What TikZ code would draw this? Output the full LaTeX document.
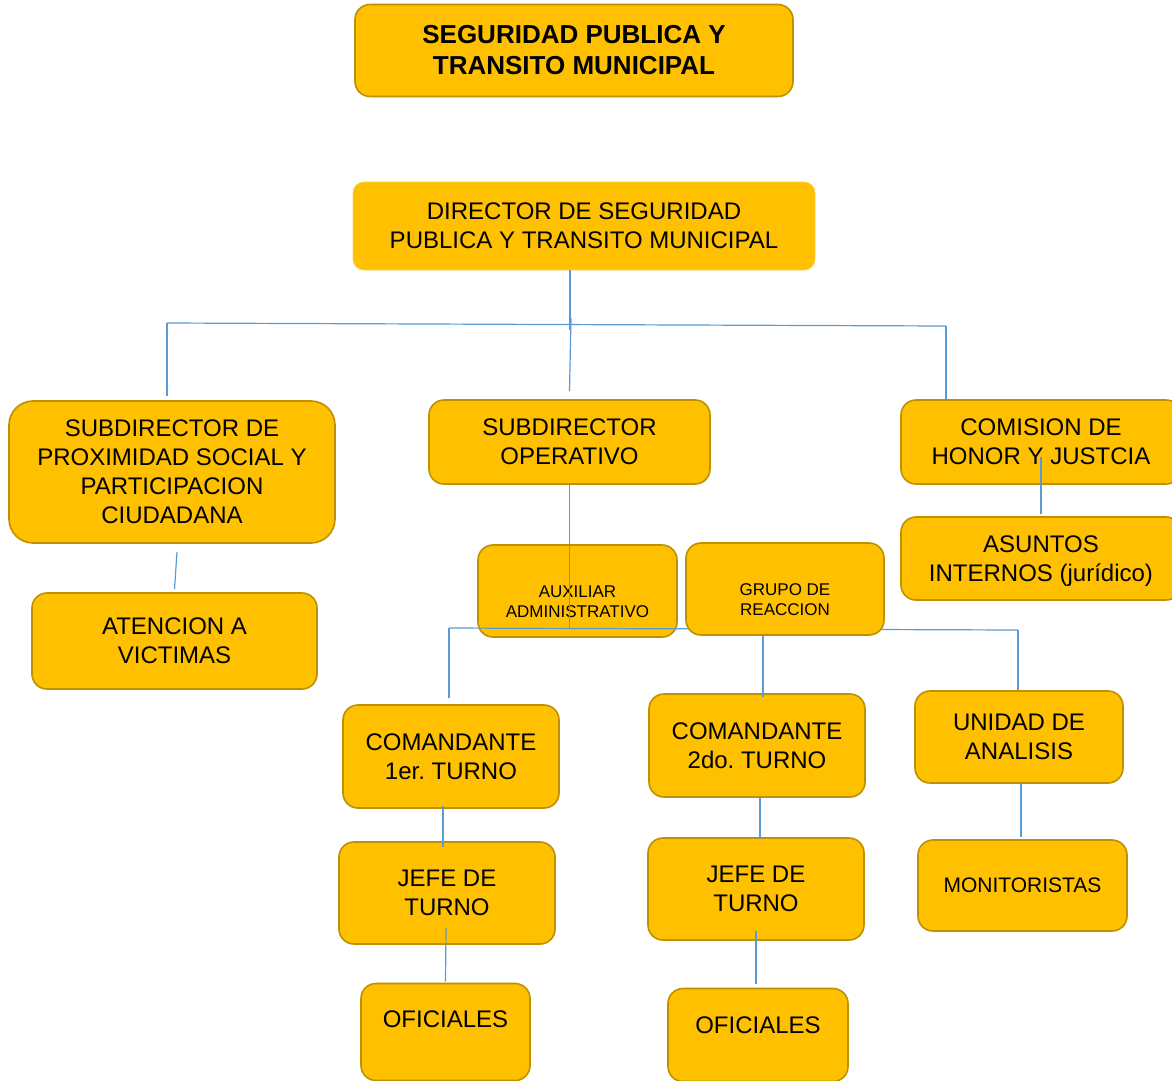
\documentclass[tikz,border=0pt]{standalone}
\usepackage{fontspec}
\setmainfont{Liberation Sans}
\definecolor{boxfill}{HTML}{FFC000}
\definecolor{boxedge}{HTML}{BF9000}
\definecolor{dirrim}{HTML}{FFD14D}
\definecolor{linkblue}{HTML}{5B9BD5}
\begin{document}
\begin{tikzpicture}[x=1pt,y=-1pt,
  maintext/.style={font=\fontsize{24}{29}\selectfont},
  smalltext/.style={font=\fontsize{17}{20}\selectfont},
  box/.style={draw=boxedge, fill=boxfill, line width=1.6pt, rounded corners=15pt,
    inner sep=0pt, align=center, maintext},
  lbl/.style={inner sep=0pt, align=center, maintext},
  sz/.style 2 args={minimum width=#1pt, minimum height=#2pt},
  link/.style={draw=linkblue, line width=1.2pt}]

% page
\fill[white] (0,0) rectangle (1172,1080);
\useasboundingbox (0,0) rectangle (1172,1080);

% header and director
\node[box, font=\fontsize{26}{31}\selectfont\bfseries, sz={438}{92}] (top) at (574,50.5)
  {SEGURIDAD PUBLICA Y\\TRANSITO MUNICIPAL};
\node[box, draw=dirrim, line width=0.8pt, rounded corners=11pt, sz={462}{88}] (dir) at (584,226)
  {DIRECTOR DE SEGURIDAD\\PUBLICA Y TRANSITO MUNICIPAL};

% first level
\node[box, rounded corners=24pt, sz={326}{142}] (sprox) at (172,472)
  {SUBDIRECTOR DE\\PROXIMIDAD SOCIAL Y\\PARTICIPACION\\CIUDADANA};
\node[box, sz={281}{84}] (sop) at (569.5,442) {SUBDIRECTOR\\OPERATIVO};
\node[box, sz={280}{84}] (com) at (1041,442) {COMISION DE\\HONOR Y JUSTCIA};
\node[box, text depth=0pt, sz={280}{83}] (asun) at (1041,558.5) {ASUNTOS\\INTERNOS (jurídico)};
\node[box, sz={285}{96}] (aten) at (174.5,641) {ATENCION A\\VICTIMAS};

% operative branch
\node[box, sz={199}{92}] (aux) at (577.5,591) {};
\node[lbl, smalltext] (auxtext) at (577.5,602) {AUXILIAR\\ADMINISTRATIVO};
\node[box, sz={216}{103}] (cmdA) at (451,756.5) {COMANDANTE\\1er.\ TURNO};
\node[box, sz={216}{103}] (cmdB) at (757,745.5) {COMANDANTE\\2do.\ TURNO};
\node[box, sz={208}{92}] (uni) at (1019,737) {UNIDAD DE\\ANALISIS};
\node[box, sz={216}{102}] (jefeA) at (447,893) {JEFE DE\\TURNO};
\node[box, sz={216}{102}] (jefeB) at (756,889) {JEFE DE\\TURNO};
\node[box, font=\fontsize{21}{25}\selectfont, sz={209}{91}] (mon) at (1022.5,885.5) {MONITORISTAS};
\node[box, sz={169}{97}] (ofA) at (445.5,1032) {};
\node[lbl] (ofAtext) at (445.5,1019) {OFICIALES};
\node[box, sz={180}{93}] (ofB) at (758,1035) {};
\node[lbl] (ofBtext) at (758,1025) {OFICIALES};

% connectors below the director
\coordinate (drop) at (570,330);
\coordinate (trunkL) at (167,323);
\coordinate (trunkR) at (946,326);
\coordinate (opTop) at (571,318);
\draw[link] (dir.south -| drop) -- (drop);
\draw[link] (trunkL) -- (trunkR);
\draw[link] (trunkL) -- ([yshift=4pt]trunkL |- sprox.north);
\draw[link] (trunkR) -- (trunkR |- com.north);
\draw[link] (opTop) -- ([yshift=8pt]sop.north);
\draw[link] ([yshift=-15pt]com.center) -- ([yshift=2pt]asun.north);
\draw[link] ([xshift=5pt,yshift=-8pt]sprox.south) -- ([yshift=3pt]aten.north);

% operative branch connectors
\coordinate (brL) at (449,628);
\coordinate (brR) at (1018,630);
\draw[link] (sop.south) -- (sop.south |- brL);
\draw[link] (brL) -- (brR);
\draw[link] (brL) -- ([yshift=6pt]brL |- cmdA.north);
\draw[link] (brR) -- (brR |- uni.north);

% reaction group sits over the branch line
\node[box, sz={198}{92}] (grp) at (785,589) {};
\node[lbl, smalltext] (grptext) at (785,600) {GRUPO DE\\REACCION};
\draw[link] ([xshift=6pt]cmdB.north |- grp.south) -- ([xshift=6pt,yshift=-4pt]cmdB.north);

\draw[link] ([xshift=-8pt,yshift=3pt]cmdA.south) -- ([xshift=-4pt,yshift=-6pt]jefeA.north);
\draw[link] ([xshift=-1pt,yshift=17pt]jefeA.south) -- ([yshift=1pt]ofA.north);
\draw[link] ([xshift=3pt]cmdB.south) -- ([xshift=4pt,yshift=-2pt]jefeB.north);
\draw[link] ([yshift=10pt]jefeB.south) -- ([yshift=4pt]ofB.north -| jefeB.south);
\draw[link] ([xshift=2pt]uni.south) -- ([xshift=-1.5pt,yshift=2pt]mon.north);
\end{tikzpicture}
\end{document}
